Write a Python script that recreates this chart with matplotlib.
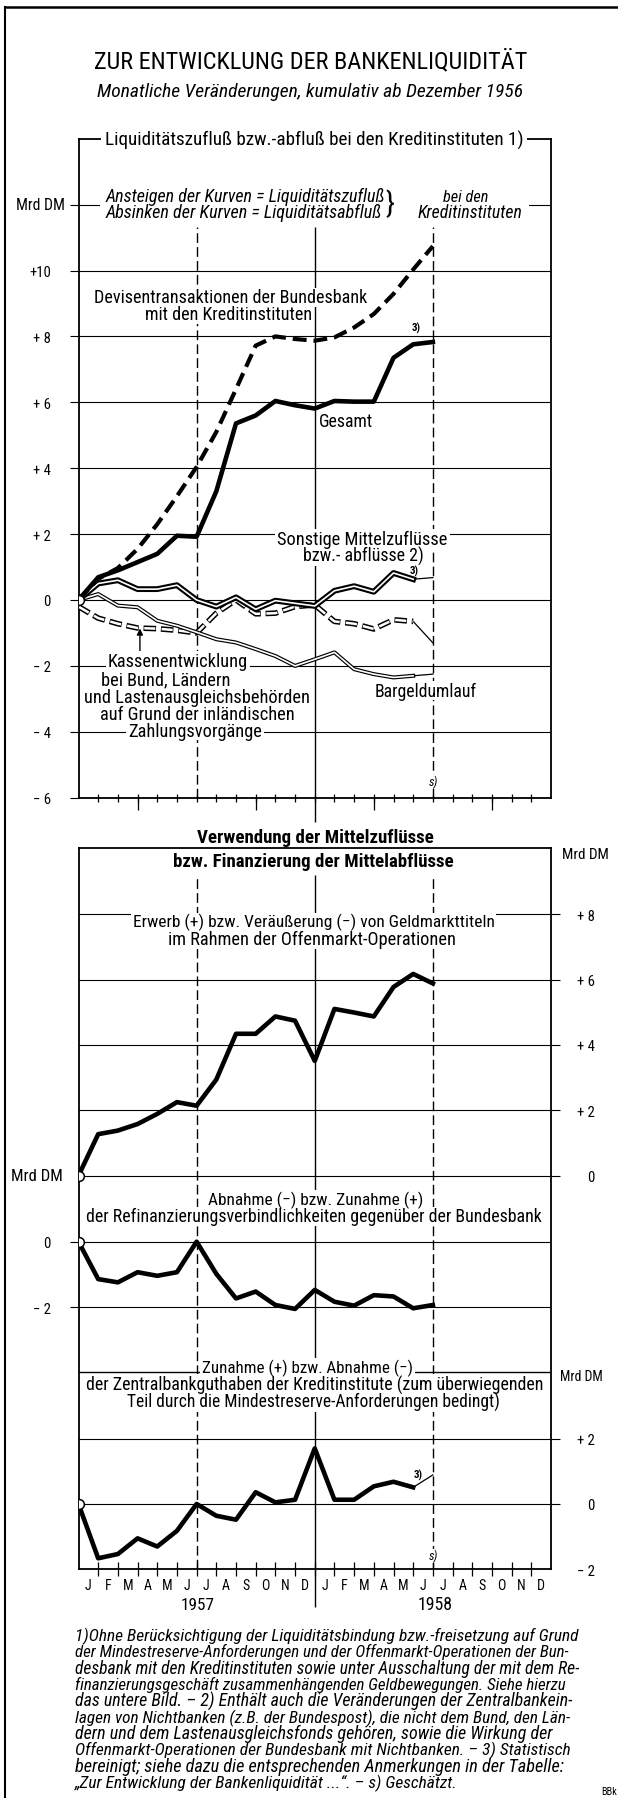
import matplotlib
matplotlib.use('Agg')
import matplotlib.pyplot as plt
from matplotlib import font_manager as fm
from matplotlib.lines import Line2D
from matplotlib.patches import Rectangle

# ---------------- data (cumulative monthly changes, Mrd DM) ----------------
months = list(range(19))          # 0 = end Dec 1956 ... 18 = end June 1958
gesamt = [0, 0.69, 0.9, 1.15, 1.4, 1.95, 1.92, 3.3, 5.36, 5.6, 6.04, 5.91, 5.81,
          6.04, 6.02, 6.02, 7.35, 7.76, 7.83]
devisen = [0, 0.64, 0.97, 1.55, 2.3, 3.15, 4.04, 5.1, 6.4, 7.72, 8.0, 7.92, 7.87,
           7.97, 8.27, 8.68, 9.29, 10.03, 10.74]
sonstige = [0, 0.5, 0.6, 0.33, 0.33, 0.45, 0.0, -0.2, 0.08, -0.28, -0.02, -0.1,
            -0.18, 0.28, 0.42, 0.25, 0.82, 0.63, 0.68]
kassen = [-0.2, -0.55, -0.72, -0.85, -0.87, -0.92, -1.0, -0.4, 0.0, -0.42, -0.4,
          -0.2, -0.15, -0.65, -0.72, -0.88, -0.6, -0.65, -1.3]
bargeld = [0, 0.18, -0.17, -0.22, -0.63, -0.78, -0.98, -1.19, -1.29, -1.49, -1.7,
           -2.0, -1.8, -1.59, -2.1, -2.25, -2.35, -2.3, -2.25]
offenmarkt = [0, 1.27, 1.38, 1.58, 1.89, 2.25, 2.14, 2.94, 4.34, 4.34, 4.87, 4.74,
              3.51, 5.1, 4.99, 4.87, 5.77, 6.17, 5.88]
refinanz = [0, -1.14, -1.24, -0.93, -1.04, -0.93, 0.0, -0.98, -1.73, -1.52, -1.93,
            -2.05, -1.47, -1.83, -1.95, -1.63, -1.67, -2.03, -1.93]
zentralbank = [0, -1.66, -1.53, -1.05, -1.3, -0.82, 0.0, -0.36, -0.48, 0.36, 0.05,
               0.13, 1.7, 0.13, 0.13, 0.54, 0.68, 0.51, 0.89]
month_letters = ['J', 'F', 'M', 'A', 'M', 'J', 'J', 'A', 'S', 'O', 'N', 'D'] * 2
years = ['1957', '1958']

p1_ticks = [-6, -4, -2, 0, 2, 4, 6, 8, 10, 12]
p1_labels = ['\u2212 6', '\u2212 4', '\u2212 2', '0', '+ 2', '+ 4', '+ 6', '+ 8', '+10', '']
p2_ticks = [0, 2, 4, 6, 8]
p2_labels = ['0', '+ 2', '+ 4', '+ 6', '+ 8']
p3_ticks = [-2, 0]
p3_labels = ['\u2212 2', '0']
p4_ticks = [-2, 0, 2]
p4_labels = ['\u2212 2', '0', '+ 2']

kassen_text = ['Kassenentwicklung', 'bei Bund, Ländern', 'und Lastenausgleichsbehörden',
               'auf Grund der inländischen', 'Zahlungsvorgänge']

footnote = [
    "1)Ohne Berücksichtigung der Liquiditätsbindung bzw.-freisetzung auf Grund",
    "der Mindestreserve-Anforderungen und der Offenmarkt-Operationen der Bun-",
    "desbank mit den Kreditinstituten sowie unter Ausschaltung der mit dem Re-",
    "finanzierungsgeschäft zusammenhängenden Geldbewegungen. Siehe hierzu",
    "das untere Bild. \u2013 2) Enthält auch die Veränderungen der Zentralbankein-",
    "lagen von Nichtbanken (z.B. der Bundespost), die nicht dem Bund, den Län-",
    "dern und dem Lastenausgleichsfonds gehören, sowie die Wirkung der",
    "Offenmarkt-Operationen der Bundesbank mit Nichtbanken. \u2013 3) Statistisch",
    "bereinigt; siehe dazu die entsprechenden Anmerkungen in der Tabelle:",
    "\u201eZur Entwicklung der Bankenliquidität ...\u201c. \u2013 s) Geschätzt.",
]
foot_widths = [502, 493, 504, 491, 495, 493, 475, 495, 489, None]

# ---------------- fonts ----------------
plt.rcParams['lines.scale_dashes'] = False
names = {f.name for f in fm.fontManager.ttflist}
FAM = 'DejaVu Sans'
for cand in ['Liberation Sans Narrow', 'Roboto Condensed', 'DejaVu Sans']:
    if cand in names:
        FAM = cand
        break
FAMS = [FAM, 'DejaVu Sans']
plt.rcParams['font.family'] = FAMS

W, H = 618, 1799
fig = plt.figure(figsize=(W / 100, H / 100), dpi=100)
fig.patch.set_facecolor('white')
renderer = fig.canvas.get_renderer()

XL, XR = 78.5, 551.0
BG_TEXTS = []


def box(top, bottom):
    return [XL / W, 1 - bottom / H, (XR - XL) / W, (bottom - top) / H]


def ptext(x, y, s, width=None, size=10, ha='center', va='center', style='normal',
          weight='normal', bg=True, pad=2.0, z=30):
    t = fig.text(x / W, 1 - y / H, s, ha=ha, va=va, fontsize=size, fontstyle=style,
                 fontweight=weight, family=FAMS, zorder=z)
    if width is not None:
        w = t.get_window_extent(renderer).width
        t.set_fontsize(size * width / w)
    if bg:
        BG_TEXTS.append((t, pad))
    return t


def add_backgrounds():
    for t, pad in BG_TEXTS:
        bb = t.get_window_extent(renderer)
        fig.add_artist(Rectangle(((bb.x0 - pad) / W, (bb.y0 - 0.5) / H),
                                 (bb.width + 2 * pad) / W, (bb.height + 1.0) / H,
                                 transform=fig.transFigure, facecolor='white',
                                 edgecolor='none', zorder=25))


LW_THICK = 3.3
DASH_V = (0, (7, 3))

# ---------------- panel 1 ----------------
Z1, U1 = 601.0, 32.95
B1 = Z1 + 6 * U1
TOP1 = 140.0


def v1(ypix):
    return (Z1 - ypix) / U1


ax1 = fig.add_axes(box(TOP1, B1))
ax1.set_xlim(0, 24)
ax1.set_ylim(-6, v1(TOP1))
for s in ax1.spines.values():
    s.set_linewidth(1.3)
ax1.set_yticks(p1_ticks)
ax1.set_yticklabels(p1_labels, fontsize=10.5)
ax1.tick_params(axis='y', direction='out', length=6.8, width=0.8, pad=13)
ax1.grid(axis='y', color='black', lw=0.8)
ax1.set_xticks(range(1, 24))
ax1.set_xticks([3, 9, 15, 21], minor=True)
ax1.xaxis.remove_overlapping_locs = False
ax1.tick_params(axis='x', which='major', direction='inout', length=5.4, width=0.9,
                labelbottom=False)
ax1.tick_params(axis='x', which='minor', direction='out', length=8.6, width=0.9,
                labelbottom=False)
ax1.vlines([6, 18], -6, v1(228), colors='black', lw=1.0, linestyles=[DASH_V])
ax1.vlines([12], v1(823), v1(228), colors='black', lw=1.0, clip_on=False)

# Kassenentwicklung: hollow dashes
ax1.plot(months[:18], kassen[:18], color='black', lw=4.0, ls=(0, (9, 3.5)),
         dash_capstyle='butt', zorder=3)
ax1.plot(months[:18], kassen[:18], color='white', lw=1.8, ls=(12.0, (8, 4.5)),
         dash_capstyle='butt', zorder=3.05)
ax1.plot(months[17:], kassen[17:], color='black', lw=0.9, zorder=3)
# Bargeldumlauf: thin double line
ax1.plot(months[:18], bargeld[:18], color='black', lw=2.9, zorder=3.1)
ax1.plot(months[:18], bargeld[:18], color='white', lw=1.2, zorder=3.15)
ax1.plot(months[17:], bargeld[17:], color='black', lw=0.9, zorder=3.1)
# Sonstige: thick double line
ax1.plot(months[:18], sonstige[:18], color='black', lw=4.2, zorder=3.2)
ax1.plot(months[:18], sonstige[:18], color='white', lw=1.2, zorder=3.25)
ax1.plot(months[17:], sonstige[17:], color='black', lw=0.9, zorder=3.2)
# Devisen: dashed thick
ax1.plot(months, devisen, color='black', lw=3.0, ls=(0, (10, 5)),
         dash_capstyle='butt', zorder=3.3)
# Gesamt
ax1.plot(months, gesamt, color='black', lw=LW_THICK, zorder=3.4)
ax1.plot([0], [0], 'o', ms=7, mfc='white', mec='black', mew=1.1, zorder=3.5)
ax1.annotate('', xy=(3.12, v1(629.5)), xytext=(3.12, v1(652)),
             arrowprops=dict(arrowstyle='-|>', color='black', lw=1.0,
                             mutation_scale=9, shrinkA=0, shrinkB=0), zorder=4)

# ---------------- lower block (panels 2-4) ----------------
TOPL = 849.3
Z2, U2 = 1176.7, 32.7
Z3, U3 = 1242.7, 32.8
Z4, U4 = 1505.0, 32.7
B4 = Z4 + 2 * U4

ax4 = fig.add_axes(box(TOPL, B4))
ax2 = fig.add_axes(box(TOPL, B4), frameon=False)
ax3 = fig.add_axes(box(TOPL, B4), frameon=False)
for ax in (ax2, ax3, ax4):
    ax.set_xlim(0, 24)
ax4.set_ylim(-2, (Z4 - TOPL) / U4)
ax2.set_ylim(-(B4 - Z2) / U2, (Z2 - TOPL) / U2)
ax3.set_ylim(-(B4 - Z3) / U3, (Z3 - TOPL) / U3)
for s in ax4.spines.values():
    s.set_linewidth(1.3)

# panel 2 (right scale)
ax2.yaxis.tick_right()
ax2.set_yticks(p2_ticks)
ax2.set_yticklabels(p2_labels, fontsize=10.5, ha='right')
ax2.tick_params(axis='y', direction='out', length=6.5, width=0.8, pad=25)
ax2.tick_params(axis='x', bottom=False, labelbottom=False)
ax2.grid(axis='y', color='black', lw=0.8)
ax2.plot(months, offenmarkt, color='black', lw=LW_THICK, zorder=3)
ax2.plot([0], [0], 'o', ms=7, mfc='white', mec='black', mew=1.1, zorder=4)

# panel 3 (left scale)
ax3.set_yticks(p3_ticks)
ax3.set_yticklabels(p3_labels, fontsize=10.5)
ax3.tick_params(axis='y', direction='out', length=6.8, width=0.8, pad=13)
ax3.tick_params(axis='x', bottom=False, labelbottom=False)
ax3.grid(axis='y', color='black', lw=0.8)
ax3.plot(months, refinanz, color='black', lw=LW_THICK, zorder=3)
ax3.plot([0], [0], 'o', ms=7, mfc='white', mec='black', mew=1.1, zorder=4)

# panel 4 (right scale, month axis)
ax4.yaxis.tick_right()
ax4.set_yticks(p4_ticks)
ax4.set_yticklabels(p4_labels, fontsize=10.5, ha='right')
ax4.tick_params(axis='y', direction='out', length=6.5, width=0.8, pad=25)
ax4.yaxis.get_major_ticks()[0].tick2line.set_visible(False)
ax4.grid(axis='y', color='black', lw=0.8)
ax4.axhline((Z4 - 1373.3) / U4, color='black', lw=1.0)
ax4.set_xticks(range(1, 24))
ax4.set_xticklabels([''] * 23)
ax4.set_xticks([m + 0.5 for m in range(24)], minor=True)
ax4.set_xticklabels(month_letters, minor=True, fontsize=10)
ax4.tick_params(axis='x', which='major', direction='inout', length=9.4, width=0.9)
ax4.tick_params(axis='x', which='minor', length=0, pad=6.2)
ax4.vlines([6, 18], -2, (Z4 - 876) / U4, colors='black', lw=1.0, linestyles=[DASH_V])
ax4.vlines([12], (Z4 - 1608) / U4, (Z4 - 876) / U4, colors='black', lw=1.0,
           clip_on=False)
ax4.plot(months[:18], zentralbank[:18], color='black', lw=LW_THICK, zorder=3)
ax4.plot(months[17:], zentralbank[17:], color='black', lw=0.9, zorder=3)
ax4.plot([0], [0], 'o', ms=7, mfc='white', mec='black', mew=1.1, zorder=4)

# ---------------- frame / border ----------------
fig.add_artist(Line2D([4.5 / W, 4.5 / W], [1 - 8 / H, 0], color='black', lw=1.5,
                      transform=fig.transFigure))
fig.add_artist(Line2D([4.5 / W, 1], [1 - 8.3 / H, 1 - 8.3 / H], color='black', lw=1.8,
                      transform=fig.transFigure))
fig.add_artist(Rectangle((100 / W, 1 - 224 / H), 429 / W, 37 / H,
                         transform=fig.transFigure, facecolor='white',
                         edgecolor='none', zorder=25))

# ---------------- texts ----------------
ptext(311, 61.7, 'ZUR ENTWICKLUNG DER BANKENLIQUIDITÄT', width=433, size=16, bg=False)
ptext(310, 91.7, 'Monatliche Veränderungen, kumulativ ab Dezember 1956', width=423,
      size=12, style='italic', bg=False)
ptext(314, 140, 'Liquiditätszufluß bzw.-abfluß bei den Kreditinstituten 1)', width=420,
      size=12, pad=4)
ptext(40.5, 205.6, 'Mrd DM', width=49, size=10, bg=False)
ptext(106, 197, 'Ansteigen der Kurven = Liquiditätszufluß', width=278, size=10,
      ha='left', style='italic', bg=False)
ptext(106, 213, 'Absinken der Kurven = Liquiditätsabfluß', width=276, size=10,
      ha='left', style='italic', bg=False)
ptext(390, 205, '}', size=21, bg=False)
ptext(466, 197, 'bei den', width=45, size=10, style='italic', bg=False)
ptext(470, 213, 'Kreditinstituten', width=104, size=10, style='italic', bg=False)

ptext(230.6, 298.3, 'Devisentransaktionen der Bundesbank', width=272, size=10)
ptext(228.6, 315, 'mit den Kreditinstituten', width=165.6, size=10)
ptext(416, 328, '3)', size=8, bg=False, weight='bold')
ptext(346, 421.7, 'Gesamt', width=53.5, size=10)
ptext(362.6, 540, 'Sonstige Mittelzuflüsse', width=169, size=10)
ptext(363.6, 556.7, 'bzw.- abflüsse 2)', width=120, size=10)
ptext(414, 571.7, '3)', size=8, bg=False, weight='bold')

# Kassen block: one common size, taken from the widest line
tmp = ptext(197, 698.3, kassen_text[2], width=224.7, size=10, bg=False)
ksize = tmp.get_fontsize()
tmp.remove()
for s, (cx, cy) in zip(kassen_text, [(177.9, 661.7), (166, 680), (197, 698.3),
                                     (197, 715), (195, 731.7)]):
    ptext(cx, cy, s, size=ksize)
ptext(425.7, 691.7, 'Bargeldumlauf', width=102.5, size=10)
ptext(433, 782.7, 's)', size=9, style='italic')

ptext(315, 838, 'Verwendung der Mittelzuflüsse', width=236.6, size=12, weight='bold',
      pad=3)
ptext(313, 861.7, 'bzw. Finanzierung der Mittelabflüsse', width=280, size=12,
      weight='bold', pad=3)
ptext(585.5, 855, 'Mrd DM', width=47, size=10, bg=False)
ptext(313.5, 922.7, 'Erwerb (+) bzw. Veräußerung (\u2212) von Geldmarkttiteln',
      width=359, size=10)
ptext(312, 940, 'im Rahmen der Offenmarkt-Operationen', width=285.5, size=10)
ptext(36.5, 1176.7, 'Mrd DM', width=52, size=10, bg=False)
ptext(315.5, 1200, 'Abnahme (\u2212) bzw. Zunahme (+)', width=213, size=10)
ptext(313.5, 1217.3, 'der Refinanzierungsverbindlichkeiten gegenüber der Bundesbank',
      width=453, size=10)
ptext(307.5, 1368.3, 'Zunahme (+) bzw. Abnahme (\u2212)', width=209, size=10)
ptext(314.5, 1385, 'der Zentralbankguthaben der Kreditinstitute (zum überwiegenden',
      width=455.5, size=10)
ptext(313.5, 1402.7, 'Teil durch die Mindestreserve-Anforderungen bedingt)',
      width=370.6, size=10)
ptext(581.5, 1376.7, 'Mrd DM', width=43, size=10, bg=False)
ptext(418, 1475, '3)', size=8, bg=False, weight='bold')
ptext(433.6, 1556.7, 's)', size=9, style='italic')
ptext(198, 1605, years[0], width=34, size=12, bg=False)
ptext(435.6, 1605, years[1], width=35, size=12, bg=False)

base = None
for i, (line, wd) in enumerate(zip(footnote, foot_widths)):
    t = ptext(75, 1636 + 16.4 * i, line, size=10, ha='left', style='italic',
              bg=False)
    w = t.get_window_extent(renderer).width
    if base is None:
        base = 10 * wd / w
    if wd is not None:
        sz = min(max(10 * wd / w, base * 0.94), base * 1.06)
    else:
        sz = base
    t.set_fontsize(sz)
ptext(609, 1791.7, 'BBk', width=16, size=8, bg=False)

add_backgrounds()
fig.savefig('out.png', dpi=100, facecolor='white')
